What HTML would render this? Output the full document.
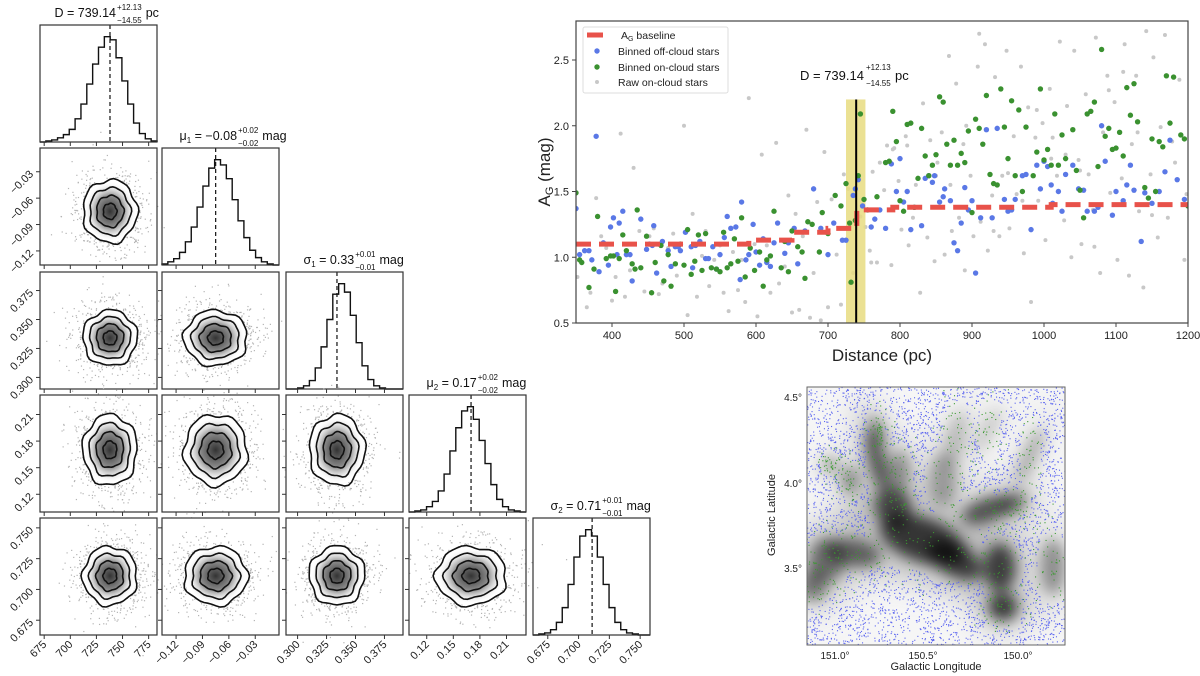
<!DOCTYPE html>
<html><head><meta charset="utf-8"><style>
html,body{margin:0;padding:0;background:#fff}
svg{display:block;font-family:"Liberation Sans",sans-serif}
</style></head><body>
<svg id="fig" width="1200" height="676" viewBox="0 0 1200 676" xmlns="http://www.w3.org/2000/svg">
<defs>
<filter id="blur8" x="-50%" y="-50%" width="200%" height="200%"><feGaussianBlur stdDeviation="7"/></filter>
<filter id="blur14" x="-50%" y="-50%" width="200%" height="200%"><feGaussianBlur stdDeviation="14"/></filter>
<clipPath id="topclip"><rect x="576" y="21" width="612" height="302"/></clipPath>
<clipPath id="mapclip"><rect x="807" y="387" width="258" height="258"/></clipPath>
<radialGradient id="g2d"><stop offset="0" stop-color="#333"/><stop offset="0.5" stop-color="#888"/><stop offset="1" stop-color="#fff" stop-opacity="0"/></radialGradient>
</defs>
<g id="corner"></g>
<g id="topchart"></g>
<g id="mapchart"></g>
</svg>
<script>
// ---------- corner plot data ----------
const paramNames = ["D","mu1","sigma1","mu2","sigma2"];
const paramLo = [671, -0.136, 0.290, 0.100, 0.663];
const paramHi = [783, -0.003, 0.391, 0.232, 0.758];
const paramMedian = [738, -0.075, 0.334, 0.170, 0.711];
const paramSd = [13, 0.018, 0.012, 0.02, 0.012];
const paramTicks = [[675,700,725,750,775],[-0.12,-0.09,-0.06,-0.03],[0.300,0.325,0.350,0.375],[0.12,0.15,0.18,0.21],[0.675,0.700,0.725,0.750]];
const paramTickLabels = [["675","700","725","750","775"],["−0.12","−0.09","−0.06","−0.03"],["0.300","0.325","0.350","0.375"],["0.12","0.15","0.18","0.21"],["0.675","0.700","0.725","0.750"]];
const histD = [0,1,2,4,7,12,22,36,55,74,90,100,97,80,58,36,18,8,3,1];
const histMu1 = [1,3,6,12,22,36,55,75,92,100,95,82,62,42,26,14,7,3,1,0];
const histSigma1 = [0,0,1,3,8,20,40,66,90,100,92,70,44,22,9,3,1,0,0,0];
const histMu2 = [0,1,2,5,10,20,36,58,80,96,100,88,68,46,26,12,5,2,1,0];
const histSigma2 = [0,1,2,5,12,26,48,74,94,100,94,74,48,26,12,5,2,1,0,0];
const hists = [histD,histMu1,histSigma1,histMu2,histSigma2];
const titleMain = ["D = 739.14","μ","σ","μ","σ"];
const titleSubIdx = ["","1","1","2","2"];
const titleVal = [""," = −0.08"," = 0.33"," = 0.17"," = 0.71"];
const titleUp = ["+12.13","+0.02","+0.01","+0.02","+0.01"];
const titleDn = ["−14.55","−0.02","−0.01","−0.02","−0.01"];
const titleUnit = ["pc","mag","mag","mag","mag"];

// ---------- top-right chart data ----------
const offDist=[350,355,362,368,372,378,382,388,395,398,402,407,410,415,420,425,428,440,448,452,456,458,462,470,478,482,488,492,495,502,510,512,516,522,530,534,540,545,550,556,560,565,572,578,580,586,590,596,600,605,610,615,620,625,630,640,645,653,658,668,680,690,700,708,720,725,735,738,742,748,760,765,772,780,788,795,800,805,810,815,820,830,835,840,845,848,855,860,862,870,875,880,885,890,895,900,905,912,920,928,935,945,950,955,960,970,975,982,990,995,1000,1005,1010,1012,1020,1025,1030,1040,1048,1055,1060,1070,1075,1080,1085,1095,1100,1110,1115,1120,1125,1135,1140,1150,1160,1168,1175,1185,1195];
const offAG=[1.37,1.02,1.05,1.05,0.98,1.92,0.89,1.11,0.94,1.23,1.30,1.02,1.26,1.35,1.02,1.02,0.82,1.29,1.06,1.10,1.09,1.24,0.88,1.12,1.05,0.93,1.08,1.08,1.05,1.19,1.08,0.92,1.09,1.12,0.99,0.99,1.08,0.91,1.02,1.15,1.31,1.22,1.23,0.83,1.42,0.98,1.02,1.25,1.04,0.94,1.14,0.96,0.93,1.11,1.26,1.03,1.11,1.22,0.95,1.20,1.52,1.22,1.02,1.26,1.13,1.13,1.47,1.52,1.59,1.39,1.23,1.29,1.36,1.22,1.71,1.50,1.75,1.42,1.50,1.21,1.38,1.24,1.60,1.62,1.57,1.62,1.42,1.46,1.52,1.43,1.11,1.05,1.26,1.53,1.36,1.43,0.88,1.30,1.97,1.30,1.98,1.44,1.35,1.36,1.44,1.62,1.63,1.21,1.70,1.52,1.73,1.69,1.55,1.41,1.50,1.35,1.63,1.70,1.52,1.51,1.35,1.35,1.38,2.00,1.73,1.32,1.50,1.43,1.55,1.70,1.51,1.12,1.49,1.41,1.50,1.65,1.89,1.59,1.44];
const onDist=[350,355,358,368,375,380,392,398,402,405,410,415,420,428,432,435,440,448,455,460,468,472,478,482,488,495,500,505,510,515,520,525,530,538,545,550,555,560,565,570,575,580,585,592,598,605,610,615,620,625,635,640,645,650,658,664,668,672,678,688,692,700,710,718,725,730,732,738,742,745,750,755,768,780,785,790,795,800,805,810,815,820,825,830,835,840,845,850,855,860,865,870,875,880,885,890,895,900,905,910,915,920,925,930,935,940,945,950,955,960,965,970,975,985,990,995,1000,1005,1010,1015,1020,1025,1030,1040,1045,1050,1055,1060,1065,1070,1075,1080,1085,1090,1095,1100,1105,1110,1115,1120,1125,1130,1140,1145,1150,1155,1160,1165,1170,1175,1180,1190,1195,1200];
const onAG=[1.49,0.98,0.96,0.77,0.91,1.31,0.99,1.01,1.01,0.74,0.99,1.17,1.05,0.95,0.91,1.36,0.92,1.16,0.73,0.96,1.09,0.82,1.02,0.78,0.95,1.10,0.94,1.21,0.87,0.97,1.17,0.90,1.18,0.92,0.91,0.89,1.19,0.92,0.95,1.14,0.97,1.30,0.85,1.07,0.90,1.04,0.78,0.98,1.01,1.35,0.92,1.12,0.89,1.20,1.08,1.04,0.84,1.27,1.25,1.04,1.34,1.18,1.47,1.39,1.56,1.26,0.81,1.28,1.62,2.09,1.44,1.36,1.46,1.72,1.73,2.11,1.88,1.43,1.35,2.01,2.02,1.38,1.60,1.98,1.77,1.62,1.70,1.78,2.22,2.18,1.86,1.70,1.89,1.70,1.79,1.72,1.96,1.34,2.05,1.98,1.86,2.23,1.63,1.56,1.55,2.28,1.99,1.75,2.19,1.62,2.12,1.50,1.99,1.62,1.80,2.28,1.74,1.82,1.70,2.09,1.70,1.93,1.75,1.97,1.66,1.51,1.30,2.09,2.11,2.18,1.69,2.58,1.92,1.98,1.82,1.83,1.95,1.77,2.29,2.08,2.32,2.03,1.53,1.45,1.90,1.50,1.88,1.84,2.38,2.02,2.37,1.93,1.90,1.39];
const rawDist=[352,360,365,370,378,385,392,400,405,412,418,425,430,438,445,452,458,465,470,478,485,490,500,505,512,518,525,530,535,542,550,555,562,568,575,580,585,590,598,602,608,615,620,628,632,640,645,650,655,660,665,670,675,680,685,690,695,700,705,712,718,722,728,735,745,752,758,762,768,772,778,782,788,792,798,802,808,812,818,822,828,832,838,842,848,852,858,862,868,872,878,882,888,892,898,902,908,912,918,922,928,932,938,942,948,952,958,962,968,972,978,982,988,992,998,1002,1008,1012,1018,1022,1028,1032,1038,1042,1048,1052,1058,1062,1068,1072,1078,1082,1088,1092,1098,1102,1108,1112,1118,1122,1128,1132,1138,1142,1148,1152,1158,1162,1168,1172,1178,1182,1188,1195,1198,1110,1050,990,930,870,810,760,1150,1090,1030,970,910,850,790,1130,1070,1010,950,890];
const rawAG=[0.85,1.10,0.62,0.73,1.45,1.16,1.07,0.67,0.85,1.94,0.70,0.90,1.68,1.20,0.74,1.16,1.22,0.72,0.80,1.07,1.18,0.86,2.00,0.56,1.33,0.70,1.01,1.20,0.78,0.98,1.09,0.73,0.59,1.04,0.75,0.98,0.66,2.21,1.10,0.55,1.78,1.09,0.73,1.87,0.80,0.93,1.47,0.58,1.33,0.60,1.16,1.97,0.54,0.88,1.42,0.52,1.80,0.62,1.44,1.02,0.64,1.63,1.52,0.88,1.31,1.23,1.05,1.65,0.96,1.72,1.51,1.85,0.94,1.83,1.58,1.21,1.92,1.09,1.30,1.55,0.73,2.17,1.15,1.89,0.97,1.72,1.95,1.02,2.53,1.20,2.32,1.30,1.86,2.00,1.62,1.16,2.45,1.27,2.62,1.05,1.47,2.37,1.16,1.62,2.57,1.22,1.92,1.48,2.45,1.03,2.14,0.66,1.91,1.43,2.02,1.13,2.28,1.91,1.62,2.64,1.28,2.15,1.00,2.57,1.74,1.10,2.24,1.63,1.36,2.67,0.88,1.95,2.38,1.49,2.18,0.98,1.60,2.62,0.86,1.86,2.38,1.35,0.77,2.72,1.63,2.52,1.15,1.99,2.69,1.30,1.88,1.72,2.35,0.98,1.48,2.41,1.66,2.12,1.20,1.55,1.85,0.96,1.32,2.27,1.78,1.43,2.70,1.62,1.82,1.95,1.08,1.75,1.64,0.90,2.30,1.58,1.27];
const baseStart=[350,590,650,700,740,790,1010];
const baseEnd=[590,650,700,740,790,1010,1200];
const baseAG=[1.10,1.13,1.19,1.22,1.36,1.38,1.40];
const xTicks=[400,500,600,700,800,900,1000,1100,1200];
const yTicks=[0.5,1.0,1.5,2.0,2.5];
const yTickLabels=["0.5","1.0","1.5","2.0","2.5"];
const distMedian=739.14, distLo=725, distHi=752, bandTop=2.2;

const NS="http://www.w3.org/2000/svg";
function mk(tag,attrs,parent){const e=document.createElementNS(NS,tag);for(const k in attrs)e.setAttribute(k,attrs[k]);if(parent)parent.appendChild(e);return e;}
let seed=12345;function rnd(){seed=(seed*1103515245+12345)%2147483648;return seed/2147483648;}
function gauss(){let u=rnd()||1e-9,v=rnd();return Math.sqrt(-2*Math.log(u))*Math.cos(2*Math.PI*v);}

const colL=[40,162,286,409,533], rowT=[25,148,272,395,518], PW=117, PH=117;
function xp(i,v){return colL[i]+(v-paramLo[i])/(paramHi[i]-paramLo[i])*PW;}
function yp(r,v){return rowT[r]+PH-(v-paramLo[r])/(paramHi[r]-paramLo[r])*PH;}

const corner=document.getElementById('corner');
for(let r=0;r<5;r++){
 for(let c=0;c<=r;c++){
  const g=mk('g',{},corner);
  
  
  const x0=colL[c],y0=rowT[r];
  if(r===c){
   const h=hists[c];const mx=Math.max(...h);
   let d='';const bw=PW/h.length;
   for(let k=0;k<h.length;k++){const yy=y0+PH-h[k]/mx*PH*0.9;const xx=x0+k*bw;d+=(k===0?'M'+xx+','+(y0+PH)+' L'+xx+','+yy:' L'+xx+','+yy)+' L'+(xx+bw)+','+yy;}
   d+=' L'+(x0+PW)+','+(y0+PH);
   mk('path',{d:d,fill:'none',stroke:'#111','stroke-width':1.4},g);
   const mxp=xp(c,paramMedian[c]);
   mk('line',{x1:mxp,x2:mxp,y1:y0,y2:y0+PH,stroke:'#111','stroke-width':1.2,'stroke-dasharray':'4,3'},g);
   const bx=x0+PW/2-44+(c===0?0:3);
   const t=mk('text',{x:bx,y:y0-8,'font-size':12.5,fill:'#111'},g);
   t.textContent=titleMain[c];
   if(titleSubIdx[c]){const s=mk('tspan',{'font-size':8,dy:3},t);s.textContent=titleSubIdx[c];const v=mk('tspan',{dy:-3},t);v.textContent=titleVal[c];}
   const bb=t.getComputedTextLength();
   const tx2=bx+bb+1;
   const up=mk('text',{x:tx2,y:y0-15,'font-size':8,fill:'#111'},g);up.textContent=titleUp[c];
   const dn=mk('text',{x:tx2,y:y0-2,'font-size':8,fill:'#111'},g);dn.textContent=titleDn[c];
   const uw=Math.max(up.getComputedTextLength(),dn.getComputedTextLength());
   const un=mk('text',{x:tx2+uw+4,y:y0-8,'font-size':12.5,fill:'#111'},g);un.textContent=titleUnit[c];
  } else {
   const cx=xp(c,paramMedian[c]),cy=yp(r,paramMedian[r]);
   const sx=paramSd[c]/(paramHi[c]-paramLo[c])*PW, sy=paramSd[r]/(paramHi[r]-paramLo[r])*PH;
   for(let k=0;k<900;k++){mk('rect',{x:cx+gauss()*sx*1.25,y:cy+gauss()*sy*1.25,width:1.2,height:1.2,fill:'#b4b4b4'},g);}
   mk('ellipse',{cx:cx,cy:cy,rx:sx*2.0,ry:sy*2.0,fill:'#fff'},g);
   mk('ellipse',{cx:cx,cy:cy,rx:sx*1.9,ry:sy*1.9,fill:'url(#g2d)'},g);
   const lv=[0.5,1.0,1.5,2.0];const ph=r*1.3+c*2.1;
   for(const k of lv){let d='';for(let a=0;a<=48;a++){const th=a/48*2*Math.PI;const w=1+0.05*Math.sin(5*th+ph)+0.03*Math.sin(9*th+ph*2);d+=(a?'L':'M')+(cx+Math.cos(th)*sx*k*w).toFixed(1)+','+(cy+Math.sin(th)*sy*k*w).toFixed(1);}
    mk('path',{d:d+'Z',fill:'none',stroke:'#111','stroke-width':1.6},g);}
  }
  mk('rect',{x:x0,y:y0,width:PW,height:PH,fill:'none',stroke:'#333','stroke-width':1.2},g);
  paramTicks[c].forEach(v=>{const xx=xp(c,v);mk('line',{x1:xx,x2:xx,y1:y0+PH,y2:y0+PH+4,stroke:'#333'},g);});
  if(r!==c)paramTicks[r].forEach(v=>{const yy=yp(r,v);mk('line',{x1:x0-4,x2:x0,y1:yy,y2:yy,stroke:'#333'},g);});
 }
}
for(let c=0;c<5;c++){paramTicks[c].forEach((v,i)=>{const xx=xp(c,v);const yy=rowT[4]+PH+10;const t=mk('text',{x:xx+3,y:yy,'font-size':11,fill:'#222','text-anchor':'end',transform:'rotate(-45 '+(xx+3)+' '+yy+')'},corner);t.textContent=paramTickLabels[c][i];});}
for(let r=1;r<5;r++){paramTicks[r].forEach((v,i)=>{const yy=yp(r,v);const t=mk('text',{x:34,y:yy+3,'font-size':11,fill:'#222','text-anchor':'end',transform:'rotate(-45 34 '+(yy+3)+')'},corner);t.textContent=paramTickLabels[r][i];});}

// ---------- top-right chart ----------
function tx(d){return 576+(d-350)/850*612;}
function ty(a){return 323-(a-0.5)*131.5;}
const topg=document.getElementById('topchart');
const pg=mk('g',{'clip-path':'url(#topclip)'},topg);
function dots(ds,as,col,r,name){const g=mk('g',{},pg);
 ds.forEach((d,i)=>{mk('circle',{cx:tx(d),cy:ty(as[i]),r:r,fill:col},g);});}
dots(rawDist,rawAG,'#c8c8c8',2,'raw-on-cloud-points');
const band=mk('rect',{x:tx(distLo),y:ty(bandTop),width:tx(distHi)-tx(distLo),height:ty(0.5)-ty(bandTop),fill:'#e8dc80',opacity:0.85},pg);


dots(offDist,offAG,'#5a78e6',2.7,'binned-off-cloud-points');
dots(onDist,onAG,'#3a9130',2.7,'binned-on-cloud-points');
const bl=mk('g',{},pg);


let bd='';baseStart.forEach((s,i)=>{bd+=(i?'L':'M')+tx(s)+','+ty(baseAG[i])+' L'+tx(baseEnd[i])+','+ty(baseAG[i]);});
mk('path',{d:bd,fill:'none',stroke:'#e8524a','stroke-width':5,'stroke-dasharray':'15,8'},bl);
const ml=mk('line',{x1:tx(distMedian),x2:tx(distMedian),y1:ty(bandTop),y2:ty(0.5),stroke:'#000','stroke-width':2},pg);


mk('rect',{x:576,y:21,width:612,height:302,fill:'none',stroke:'#444','stroke-width':1.2},topg);
xTicks.forEach(v=>{mk('line',{x1:tx(v),x2:tx(v),y1:323,y2:327,stroke:'#444'},topg);const t=mk('text',{x:tx(v),y:339,'font-size':11,'text-anchor':'middle',fill:'#222'},topg);t.textContent=v;});
yTicks.forEach((v,i)=>{mk('line',{x1:572,x2:576,y1:ty(v),y2:ty(v),stroke:'#444'},topg);const t=mk('text',{x:569,y:ty(v)+4,'font-size':11,'text-anchor':'end',fill:'#222'},topg);t.textContent=yTickLabels[i];});
topg.insertAdjacentHTML('beforeend',`
<text x="882" y="361" font-size="17" text-anchor="middle" fill="#222">Distance  (pc)</text>
<text transform="rotate(-90 550 172)" x="550" y="172" font-size="17" text-anchor="middle" fill="#222">A<tspan font-size="11" dy="3">G</tspan><tspan dy="-3">  (mag)</tspan></text>
<text x="800" y="80" font-size="13" fill="#111">D = 739.14</text>
<text x="866" y="70" font-size="8" fill="#111">+12.13</text>
<text x="866" y="86" font-size="8" fill="#111">−14.55</text>
<text x="895" y="80" font-size="13" fill="#111">pc</text>
<g>
<rect x="583" y="27" width="145" height="66" fill="#fff" fill-opacity="0.85" stroke="#ddd" rx="2"/>
<line x1="587" y1="35" x2="603" y2="35" stroke="#e8524a" stroke-width="5"/>
<text x="621" y="39" font-size="10.5" fill="#222">A<tspan font-size="7" dy="2">G</tspan><tspan dy="-2"> baseline</tspan></text>
<circle cx="597" cy="51" r="2.7" fill="#5a78e6"/><text x="618" y="55" font-size="10.5" fill="#222">Binned off-cloud stars</text>
<circle cx="597" cy="67" r="2.7" fill="#3a9130"/><text x="618" y="71" font-size="10.5" fill="#222">Binned on-cloud stars</text>
<circle cx="597" cy="82" r="2" fill="#c8c8c8"/><text x="618" y="86" font-size="10.5" fill="#222">Raw on-cloud stars</text>
</g>`);

// ---------- map ----------
const mapg=document.getElementById('mapchart');
const mg=mk('g',{'clip-path':'url(#mapclip)'},mapg);
mk('rect',{x:807,y:387,width:258,height:258,fill:'#f6f6f6'},mg);
const cloud=[[923,540,45,22,20,0.95],[955,560,30,16,30,0.9],[1000,567,16,24,0,0.9],[1003,607,15,14,0,0.95],[893,507,18,20,-30,0.85],[877,460,9,32,-15,0.8],[877,430,6,15,-20,0.6],[853,553,28,14,10,0.7],[827,560,18,22,0,0.6],[813,585,14,16,0,0.6],[987,510,26,12,-20,0.8],[1013,503,14,10,-30,0.65],[1030,455,8,30,25,0.35],[1053,567,12,28,0,0.5],[943,480,14,26,0,0.4],[955,440,10,30,15,0.25],[988,430,8,25,30,0.2],[850,480,9,14,0,0.5],[830,465,8,8,0,0.45],[900,470,10,20,0,0.45]];
const halo=mk('g',{filter:'url(#blur14)'},mg);
cloud.forEach(c=>mk('ellipse',{cx:c[0],cy:c[1],rx:c[2]*2.0,ry:c[3]*2.0,transform:'rotate('+c[4]+' '+c[0]+' '+c[1]+')',fill:'#aaa',opacity:c[5]*0.55},halo));
const core=mk('g',{filter:'url(#blur8)'},mg);
cloud.forEach(c=>mk('ellipse',{cx:c[0],cy:c[1],rx:c[2],ry:c[3],transform:'rotate('+c[4]+' '+c[0]+' '+c[1]+')',fill:'#000',opacity:c[5]*0.75},core));
const bdots=mk('g',{},mg);


seed=777;
for(let i=0;i<5000;i++){const x=807+rnd()*258,y=387+rnd()*258;let inside=false;for(const c of cloud){const dx=(x-c[0])/(c[2]*1.2),dy=(y-c[1])/(c[3]*1.2);if(dx*dx+dy*dy<1.2){inside=true;break;}}if(!inside)mk('rect',{x:x,y:y,width:1.1,height:1.1,fill:'#5a64f0'},bdots);}
const gdots=mk('g',{},mg);


for(let i=0;i<1000;i++){const c=cloud[Math.floor(rnd()*cloud.length)];mk('rect',{x:c[0]+gauss()*c[2]*0.9,y:c[1]+gauss()*c[3]*0.9,width:1.1,height:1.1,fill:'#3a9a30'},gdots);}
mapg.insertAdjacentHTML('beforeend',`
<rect x="807" y="387" width="258" height="258" fill="none" stroke="#666" stroke-width="1"/>
<g font-size="10" fill="#222">
<text x="802" y="401" text-anchor="end">4.5°</text><text x="802" y="487" text-anchor="end">4.0°</text><text x="802" y="572" text-anchor="end">3.5°</text>
<text x="835" y="659" text-anchor="middle">151.0°</text><text x="923" y="659" text-anchor="middle">150.5°</text><text x="1018" y="659" text-anchor="middle">150.0°</text>
</g>
<text x="936" y="670" font-size="11" text-anchor="middle" fill="#222">Galactic Longitude</text>
<text transform="rotate(-90 775 515)" x="775" y="515" font-size="11" text-anchor="middle" fill="#222">Galactic Latitude</text>`);
</script>
</body></html>
